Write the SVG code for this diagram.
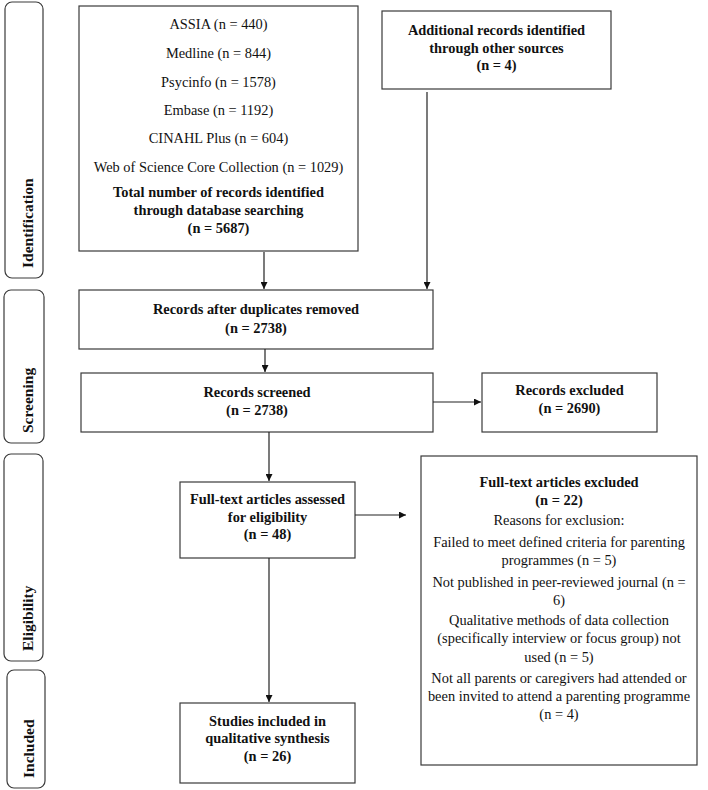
<svg xmlns="http://www.w3.org/2000/svg" width="708" height="790" viewBox="0 0 708 790">
<style>
.box{fill:#fff;stroke:#3a3a3a;stroke-width:1.2}
.side{fill:#fff;stroke:#3a3a3a;stroke-width:1.2}
text{font-family:"Liberation Serif","Times New Roman",serif;fill:#111;font-size:14.4px;text-anchor:middle}
.b{font-weight:bold}
.sl{font-weight:bold;font-size:15.5px;text-anchor:start}
.con{stroke:#222;stroke-width:1.2;fill:none;marker-end:url(#ah)}
</style>
<defs>
<marker id="ah" viewBox="0 0 10 10" refX="10" refY="5" markerWidth="7" markerHeight="7" markerUnits="userSpaceOnUse" orient="auto">
<path d="M0,0 L10,5 L0,10 z" fill="#111"/>
</marker>
</defs>
<rect width="708" height="790" fill="#fff"/>

<g id="phase-identification"><rect class="side" x="5" y="2" width="38" height="276" rx="7"/><text class="sl" transform="translate(33,268) rotate(-90)">Identification</text></g>
<g id="phase-screening"><rect class="side" x="4" y="290" width="40" height="153" rx="7"/><text class="sl" transform="translate(33,433) rotate(-90)">Screening</text></g>
<g id="phase-eligibility"><rect class="side" x="4" y="454" width="39" height="207" rx="7"/><text class="sl" transform="translate(33,651) rotate(-90)">Eligibility</text></g>
<g id="phase-included"><rect class="side" x="7" y="670" width="38" height="118" rx="7"/><text class="sl" transform="translate(34,778) rotate(-90)">Included</text></g>

<g id="db-search"><rect class="box" x="79" y="6" width="279" height="245"/>
<text x="218.5" y="29">ASSIA (n = 440)</text>
<text x="218.5" y="58">Medline (n = 844)</text>
<text x="218.5" y="87">Psycinfo (n = 1578)</text>
<text x="218.5" y="115">Embase (n = 1192)</text>
<text x="218.5" y="143">CINAHL Plus (n = 604)</text>
<text x="218.5" y="172">Web of Science Core Collection (n = 1029)</text>
<text class="b" x="218.5" y="197">Total number of records identified</text>
<text class="b" x="218.5" y="215">through database searching</text>
<text class="b" x="218.5" y="233">(n = 5687)</text>
</g>

<g id="other-sources"><rect class="box" x="382" y="11" width="229" height="78"/>
<text class="b" x="496.5" y="35">Additional records identified</text>
<text class="b" x="496.5" y="53">through other sources</text>
<text class="b" x="496.5" y="70">(n = 4)</text>
</g>

<g id="dedup"><rect class="box" x="79" y="290" width="354" height="59"/>
<text class="b" x="256" y="314">Records after duplicates removed</text>
<text class="b" x="256" y="333">(n = 2738)</text>
</g>

<g id="screened"><rect class="box" x="81" y="373" width="352" height="59"/>
<text class="b" x="257" y="397">Records screened</text>
<text class="b" x="257" y="415">(n = 2738)</text>
</g>

<g id="excluded"><rect class="box" x="482" y="373" width="175" height="59"/>
<text class="b" x="569.5" y="395">Records excluded</text>
<text class="b" x="569.5" y="413">(n = 2690)</text>
</g>

<g id="fulltext"><rect class="box" x="180" y="482" width="175" height="76"/>
<text class="b" x="267.5" y="504">Full-text articles assessed</text>
<text class="b" x="267.5" y="522">for eligibility</text>
<text class="b" x="267.5" y="539">(n = 48)</text>
</g>

<g id="fulltext-excluded"><rect class="box" x="421" y="456" width="276" height="309"/>
<text class="b" x="559" y="487">Full-text articles excluded</text>
<text class="b" x="559" y="505">(n = 22)</text>
<text x="559" y="525">Reasons for exclusion:</text>
<text x="559" y="547">Failed to meet defined criteria for parenting</text>
<text x="559" y="565">programmes (n = 5)</text>
<text x="559" y="587">Not published in peer-reviewed journal (n =</text>
<text x="559" y="605">6)</text>
<text x="559" y="625">Qualitative methods of data collection</text>
<text x="559" y="643">(specifically interview or focus group) not</text>
<text x="559" y="662">used (n = 5)</text>
<text x="559" y="683">Not all parents or caregivers had attended or</text>
<text x="559" y="701">been invited to attend a parenting programme</text>
<text x="559" y="719">(n = 4)</text>
</g>

<g id="included"><rect class="box" x="180" y="703" width="175" height="80"/>
<text class="b" x="267.5" y="726">Studies included in</text>
<text class="b" x="267.5" y="743">qualitative synthesis</text>
<text class="b" x="267.5" y="761">(n = 26)</text>
</g>

<g id="connectors">
<path class="con" d="M264,252 V289"/>
<path class="con" d="M427,92 V289"/>
<path class="con" d="M265,349 V372"/>
<path class="con" d="M433,402 H481"/>
<path class="con" d="M269,432 V481"/>
<path class="con" d="M355,515 H406"/>
<path class="con" d="M269,558 V702"/>
</g>
</svg>
